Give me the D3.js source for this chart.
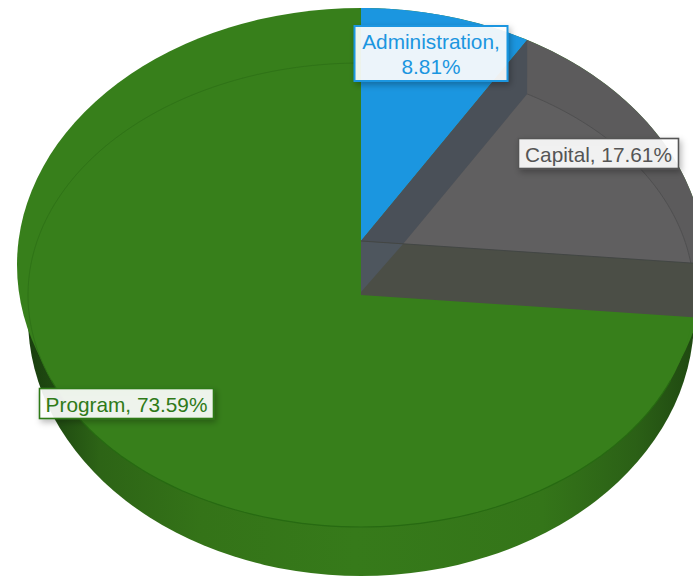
<!DOCTYPE html>
<html>
<head>
<meta charset="utf-8">
<script src="https://cdn.jsdelivr.net/npm/d3@7/dist/d3.min.js"></script>
<style>
  html, body { margin: 0; padding: 0; background: #fff; }
  svg { display: block; }
  text { font-family: "Liberation Sans", sans-serif; font-size: 20.8px; }
</style>
</head>
<body>
<svg id="chart" width="693" height="576"></svg>
<script>
const categories = ["Administration", "Capital", "Program"];
const shares = [8.81, 17.61, 73.59];
const sliceColors = ["#1b96e0", "#5c5b5c", "#377f1b"];
const labelColors = ["#1b96e0", "#555555", "#2f7a18"];
const labelLines = [
  d => [`${d.category},`, `${d.share.toFixed(2)}%`],
  d => [`${d.category}, ${d.share.toFixed(2)}%`],
  d => [`${d.category}, ${d.share.toFixed(2)}%`]
];
const labelBoxes = [
  { x: 354.5, y: 26, w: 153, h: 55 },
  { x: 518.5, y: 138.5, w: 160, h: 30 },
  { x: 39.5, y: 388.5, w: 174, h: 30 }
];

// Ellipses of the tilted disc
const rim = { cx: 361, cy: 265, rx: 344, ry: 257 };
const face = { cx: 361, cy: 295, rx: 333, ry: 232 };
const base = { cx: 361, cy: 318, rx: 333, ry: 258 };
const apex = { x: 361, y: 241 };
const innerApex = { x: 403, y: 244 };
const wallDrop = 54;

const svg = d3.select("#chart");
const defs = svg.append("defs");

const wallGradient = defs.append("linearGradient")
  .attr("id", "wall").attr("gradientUnits", "userSpaceOnUse")
  .attr("x1", 20).attr("x2", 690).attr("y1", 0).attr("y2", 0);
[[0, "#173a0d"], [0.05, "#1f4a11"], [0.12, "#2d6416"], [0.27, "#347318"],
 [0.5, "#367a1a"], [0.78, "#347519"], [0.92, "#2b6016"], [1, "#204a11"]]
  .forEach(([o, c]) => wallGradient.append("stop").attr("offset", o).attr("stop-color", c));

const shadow = defs.append("filter").attr("id", "labelShadow")
  .attr("x", "-15%").attr("y", "-30%").attr("width", "130%").attr("height", "170%");
shadow.append("feDropShadow").attr("dx", 2).attr("dy", 3).attr("stdDeviation", 3)
  .attr("flood-color", "#000").attr("flood-opacity", 0.3);

const pie = d3.pie().sort(null).value(d => d.share).startAngle(0).endAngle(2 * Math.PI * d3.sum(shares) / 100);
const slices = pie(categories.map((category, i) => ({ category, share: shares[i] })));
const adminEnd = slices[0].endAngle;
const capitalEnd = slices[1].endAngle;

// Direction on screen of a pie angle once the disc is tilted
const heading = a => ({ x: Math.sin(a) * rim.rx, y: -Math.cos(a) * rim.ry });

// Where a ray leaving `o` at pie angle `a` meets ellipse `e`
function hit(o, a, e) {
  const d = heading(a);
  const px = (o.x - e.cx) / e.rx, py = (o.y - e.cy) / e.ry;
  const qx = d.x / e.rx, qy = d.y / e.ry;
  const A = qx * qx + qy * qy, B = 2 * (px * qx + py * qy), C = px * px + py * py - 1;
  const t = (-B + Math.sqrt(B * B - 4 * A * C)) / (2 * A);
  return { x: o.x + t * d.x, y: o.y + t * d.y };
}
const paramOf = (p, e) => Math.atan2((p.x - e.cx) / e.rx, -(p.y - e.cy) / e.ry);
const arcPoints = (e, t0, t1) => d3.range(0, 81).map(i => {
  const t = t0 + (t1 - t0) * i / 80;
  return { x: e.cx + e.rx * Math.sin(t), y: e.cy - e.ry * Math.cos(t) };
});
const line = d3.line().x(d => d.x).y(d => d.y);
const closed = pts => line(pts) + "Z";
const ellipse = (e, fill) => svg.append("ellipse")
  .attr("cx", e.cx).attr("cy", e.cy).attr("rx", e.rx).attr("ry", e.ry).attr("fill", fill);

// Disc: side wall, then rim and face of the large slice
ellipse(base, "url(#wall)");
ellipse(rim, sliceColors[2]);
ellipse(face, sliceColors[2]);
svg.append("path").attr("fill", "none").attr("stroke", "#276a12").attr("stroke-width", 1.2)
  .attr("d", line(arcPoints(face, -Math.PI * 0.62, -Math.PI * 1.38)));
svg.append("path").attr("fill", "none").attr("stroke", "#2f7317").attr("stroke-width", 1)
  .attr("d", line(arcPoints(face, 0, -Math.PI * 0.62)));

// Small slices seen in the cut-away
const rimTop = hit(apex, 0, rim);
const rimAdmin = hit(apex, adminEnd, rim);
const rimCapital = hit(apex, capitalEnd, rim);
svg.append("path").attr("fill", sliceColors[0])
  .attr("d", closed([apex, ...arcPoints(rim, paramOf(rimTop, rim), paramOf(rimAdmin, rim))]));
svg.append("path").attr("fill", sliceColors[1])
  .attr("d", closed([apex, ...arcPoints(rim, paramOf(rimAdmin, rim), paramOf(rimCapital, rim))]));

// Floor of the grey slice, bounded by the face ellipse
const floorAdmin = hit(innerApex, adminEnd, face);
const floorCapital = hit(innerApex, capitalEnd, face);
const floorArc = arcPoints(face, paramOf(floorAdmin, face), paramOf(floorCapital, face));
svg.append("path").attr("fill", "#605f60").attr("d", closed([innerApex, ...floorArc]));
svg.append("path").attr("fill", "none").attr("stroke", "#4f4f50").attr("stroke-width", 1).attr("d", line(floorArc));

// Inner walls of the cut
svg.append("path").attr("fill", "#4a5058")
  .attr("d", closed([apex, hit(apex, adminEnd, rim), floorAdmin, innerApex]));
const wallEnd = hit(apex, capitalEnd, rim);
const wallBottom = { x: apex.x, y: apex.y + wallDrop };
const wallBottomEnd = { x: wallEnd.x, y: wallEnd.y + wallDrop };
svg.append("path").attr("fill", "#4b4e46")
  .attr("d", closed([apex, wallEnd, wallBottomEnd, wallBottom]));
svg.append("path").attr("fill", "#4e565e")
  .attr("d", closed([apex, innerApex, { x: apex.x, y: apex.y + wallDrop - 3 }]));
svg.append("path").attr("fill", "none").attr("stroke", "#434645").attr("stroke-width", 1)
  .attr("d", line([apex, wallEnd]));

// Data labels
slices.forEach((s, i) => {
  const box = labelBoxes[i];
  const g = svg.append("g");
  g.append("rect")
    .attr("x", box.x).attr("y", box.y).attr("width", box.w).attr("height", box.h)
    .attr("fill", "#ffffff").attr("fill-opacity", 0.9)
    .attr("stroke", labelColors[i]).attr("stroke-width", i === 0 ? 2 : 1.6)
    .attr("filter", "url(#labelShadow)");
  const rows = labelLines[i](s.data);
  rows.forEach((row, r) => {
    g.append("text")
      .attr("x", box.x + box.w / 2)
      .attr("y", box.y + 23 + r * 24.7)
      .attr("text-anchor", "middle")
      .attr("fill", labelColors[i])
      .text(row);
  });
});
</script>
</body>
</html>
